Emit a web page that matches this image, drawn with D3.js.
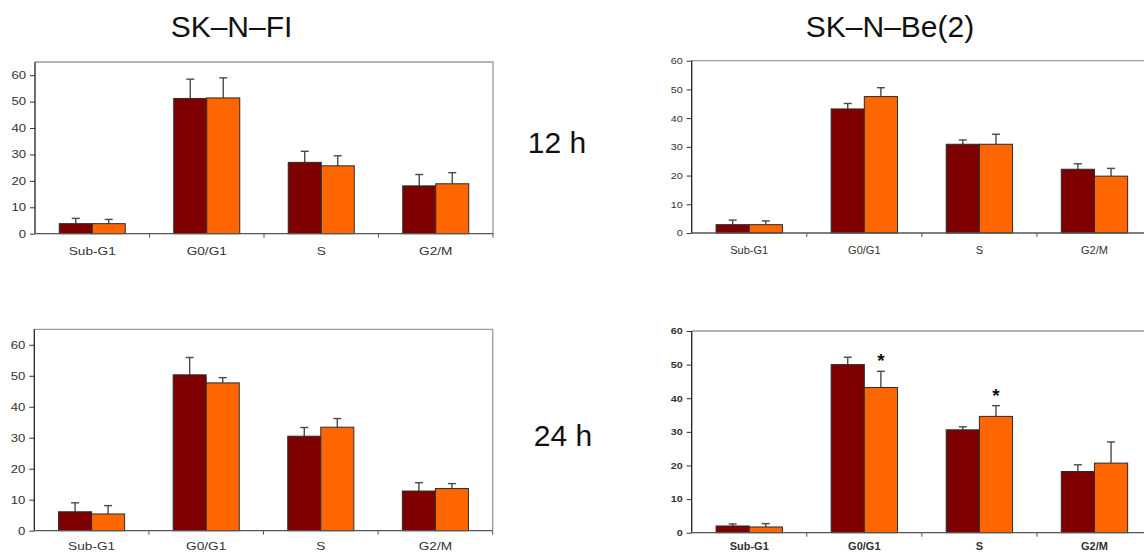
<!DOCTYPE html>
<html>
<head>
<meta charset="utf-8">
<script src="https://cdn.jsdelivr.net/npm/d3@7"></script>
<style>
  html, body { margin: 0; padding: 0; background: #fff; }
  svg { display: block; font-family: Arial, "Liberation Sans", sans-serif; }
</style>
</head>
<body>
<svg id="chart" width="1144" height="554"></svg>
<script>
// Cell-cycle phases shown on every panel
const categories = ["Sub-G1", "G0/G1", "S", "G2/M"];
const yTicks = [0, 10, 20, 30, 40, 50, 60];

// SK-N-FI, 12 h
const fi12Control = [3.8, 51.2, 27.0, 18.1];
const fi12ControlSD = [2.0, 7.3, 4.2, 4.3];
const fi12Treated = [3.8, 51.4, 25.7, 18.9];
const fi12TreatedSD = [1.6, 7.6, 3.8, 4.2];

// SK-N-Be(2), 12 h
const be12Control = [2.9, 43.2, 30.9, 22.2];
const be12ControlSD = [1.6, 1.9, 1.5, 1.9];
const be12Treated = [2.9, 47.5, 30.9, 19.8];
const be12TreatedSD = [1.3, 3.1, 3.5, 2.7];

// SK-N-FI, 24 h
const fi24Control = [6.1, 50.3, 30.5, 12.8];
const fi24ControlSD = [2.9, 5.6, 2.8, 2.7];
const fi24Treated = [5.4, 47.7, 33.4, 13.6];
const fi24TreatedSD = [2.7, 1.7, 2.8, 1.6];

// SK-N-Be(2), 24 h
const be24Control = [2.0, 50.0, 30.6, 18.2];
const be24ControlSD = [0.6, 2.2, 0.9, 2.0];
const be24Treated = [1.7, 43.2, 34.6, 20.7];
const be24TreatedSD = [1.0, 4.8, 3.2, 6.3];
const be24Significant = [false, true, true, false];

const seriesColors = ["#7f0000", "#ff6600"];

const svg = d3.select("#chart");

// stretch a text element horizontally
function widen(sel, factor) {
  sel.each(function () {
    const w = this.getComputedTextLength();
    d3.select(this).attr("textLength", w * factor).attr("lengthAdjust", "spacingAndGlyphs");
  });
}

function panel(cfg) {
  const g = svg.append("g");
  const x = d3.scaleBand().domain(categories).range([cfg.left, cfg.right]).padding(0);
  const xs = d3.scaleBand().domain([0, 1]).range([0, x.bandwidth()])
    .paddingInner(0).paddingOuter(0.735);
  const y = d3.scaleLinear().domain([0, cfg.yMax]).range([cfg.base, cfg.top]);

  // plot frame (top and right)
  g.append("path")
    .attr("d", `M${cfg.left},${cfg.top}H${cfg.right}V${cfg.base}`)
    .attr("fill", "none").attr("stroke", "#9a9a9a").attr("stroke-width", 1.3);

  const series = [
    { vals: cfg.control, sd: cfg.controlSD },
    { vals: cfg.treated, sd: cfg.treatedSD }
  ];

  series.forEach((s, si) => {
    const sg = g.append("g");
    // error bars (upper only)
    sg.selectAll("line.err").data(categories).join("line")
      .attr("x1", c => x(c) + xs(si) + xs.bandwidth() / 2)
      .attr("x2", c => x(c) + xs(si) + xs.bandwidth() / 2)
      .attr("y1", (c, i) => y(s.vals[i]))
      .attr("y2", (c, i) => y(s.vals[i] + s.sd[i]))
      .attr("stroke", "#4a4a4a").attr("stroke-width", 1.4);
    sg.selectAll("line.cap").data(categories).join("line")
      .attr("x1", c => x(c) + xs(si) + xs.bandwidth() / 2 - 4)
      .attr("x2", c => x(c) + xs(si) + xs.bandwidth() / 2 + 4)
      .attr("y1", (c, i) => y(s.vals[i] + s.sd[i]))
      .attr("y2", (c, i) => y(s.vals[i] + s.sd[i]))
      .attr("stroke", "#4a4a4a").attr("stroke-width", 1.4);
    sg.selectAll("rect").data(categories).join("rect")
      .attr("x", c => x(c) + xs(si))
      .attr("width", xs.bandwidth())
      .attr("y", (c, i) => y(s.vals[i]))
      .attr("height", (c, i) => cfg.base - y(s.vals[i]))
      .attr("fill", seriesColors[si])
      .attr("stroke", "#2b2b2b").attr("stroke-width", 1);
  });

  // significance marks
  if (cfg.stars) {
    g.selectAll("text.star").data(categories.filter((c, i) => cfg.stars[i])).join("text")
      .attr("x", c => x(c) + xs(1) + xs.bandwidth() / 2)
      .attr("y", c => {
        const i = categories.indexOf(c);
        return y(cfg.treated[i] + cfg.treatedSD[i]) - 4;
      })
      .attr("text-anchor", "middle")
      .attr("font-size", 19).attr("font-weight", "bold").attr("fill", "#111")
      .text("*");
  }

  // y axis
  const ya = g.append("g").attr("transform", `translate(${cfg.left},0)`)
    .call(d3.axisLeft(y).tickValues(yTicks).tickSize(5).tickPadding(4).tickSizeOuter(0));
  ya.select(".domain").remove();
  ya.append("line").attr("x1", 0).attr("x2", 0).attr("y1", cfg.top).attr("y2", cfg.base)
    .attr("stroke", "#222").attr("stroke-width", 1.3);
  ya.selectAll(".tick line").attr("stroke", "#333");
  ya.selectAll(".tick text")
    .attr("font-size", cfg.yFont).attr("font-family", "Arial, 'Liberation Sans', sans-serif")
    .attr("font-weight", cfg.bold ? "bold" : "normal")
    .attr("fill", "#333").call(widen, cfg.yStretch);

  // x axis with ticks on category boundaries
  const xa = g.append("g");
  xa.append("line").attr("x1", cfg.left).attr("x2", cfg.right).attr("y1", cfg.base).attr("y2", cfg.base)
    .attr("stroke", "#555").attr("stroke-width", 1.3);
  xa.selectAll("line.tk").data(categories.slice(1).concat(["end"])).join("line")
    .attr("x1", (c, i) => i < 3 ? x(c) : cfg.right)
    .attr("x2", (c, i) => i < 3 ? x(c) : cfg.right)
    .attr("y1", cfg.base).attr("y2", cfg.base + 4)
    .attr("stroke", "#555");
  xa.selectAll("text").data(categories).join("text")
    .attr("x", c => x(c) + x.bandwidth() / 2)
    .attr("y", cfg.base + cfg.xLabelDy)
    .attr("text-anchor", "middle")
    .attr("font-size", cfg.xFont)
    .attr("font-weight", cfg.bold ? "bold" : "normal")
    .attr("fill", "#333")
    .text(c => c)
    .call(widen, cfg.xStretch);
}

panel({ left: 35, right: 493, top: 62, base: 233.7, yMax: 65,
  control: fi12Control, controlSD: fi12ControlSD, treated: fi12Treated, treatedSD: fi12TreatedSD,
  yFont: 10.5, yStretch: 1.25, xFont: 10.5, xStretch: 1.3, xLabelDy: 21 });
panel({ left: 691.7, right: 1152, top: 60.7, base: 233, yMax: 60,
  control: be12Control, controlSD: be12ControlSD, treated: be12Treated, treatedSD: be12TreatedSD,
  yFont: 9, yStretch: 1.2, xFont: 10, xStretch: 1.1, xLabelDy: 21 });
panel({ left: 34.3, right: 492.7, top: 329.3, base: 530.7, yMax: 65,
  control: fi24Control, controlSD: fi24ControlSD, treated: fi24Treated, treatedSD: fi24TreatedSD,
  yFont: 10.5, yStretch: 1.25, xFont: 10.5, xStretch: 1.3, xLabelDy: 19.5 });
panel({ left: 691.7, right: 1152, top: 331, base: 532.7, yMax: 60,
  control: be24Control, controlSD: be24ControlSD, treated: be24Treated, treatedSD: be24TreatedSD,
  stars: be24Significant, bold: true,
  yFont: 9, yStretch: 1.2, xFont: 10, xStretch: 1.1, xLabelDy: 17 });

// cell line titles and time labels
const labels = [
  { t: "SK–N–FI", x: 231.5, y: 37 },
  { t: "SK–N–Be(2)", x: 890, y: 37 },
  { t: "12 h", x: 557, y: 153 },
  { t: "24 h", x: 563, y: 446 }
];
svg.selectAll("text.lbl").data(labels).join("text")
  .attr("class", "lbl")
  .attr("x", d => d.x).attr("y", d => d.y)
  .attr("text-anchor", "middle")
  .attr("font-size", 30).attr("fill", "#111")
  .text(d => d.t);
</script>
</body>
</html>
